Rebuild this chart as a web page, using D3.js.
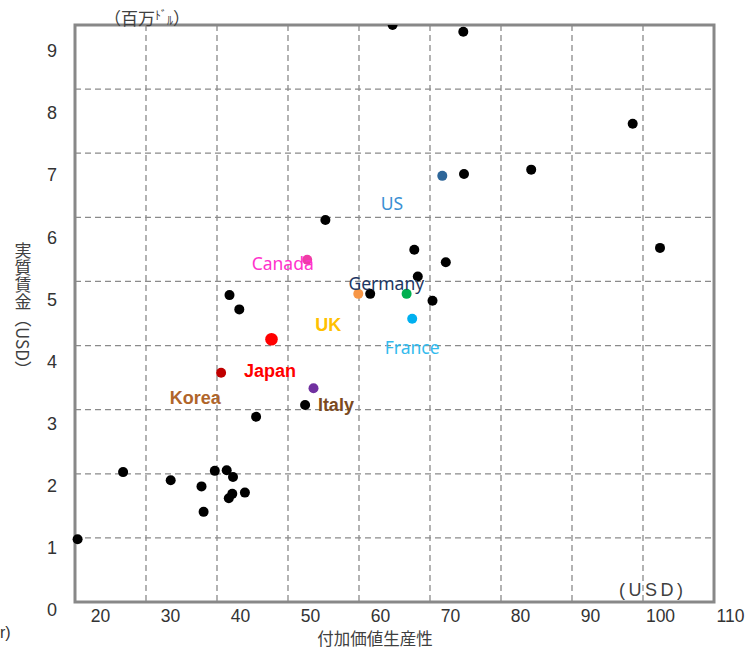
<!DOCTYPE html>
<html><head><meta charset="utf-8">
<script src="https://cdn.jsdelivr.net/npm/d3@7"></script>
<style>
html,body{margin:0;padding:0;background:#fff;}
svg{display:block;}
</style></head>
<body>
<svg id="chart" width="747" height="649"></svg>
<script>
// ---- data ----
const xTickLabels = [20, 30, 40, 50, 60, 70, 80, 90, 100, 110];
const yTickLabels = [0, 1, 2, 3, 4, 5, 6, 7, 8, 9];
const otherX = [16.8, 23.3, 30.1, 34.5, 34.8, 36.4, 38.1, 39.0, 40.7, 38.9, 38.4, 42.3, 49.3, 38.5, 39.9, 52.2, 58.6, 64.9, 65.4, 69.4, 67.5, 72.0, 81.6, 96.1, 100.0, 61.8, 71.9];
const otherY = [1.14, 2.22, 2.09, 1.99, 1.58, 2.24, 2.25, 2.14, 1.89, 1.87, 1.80, 3.11, 3.30, 5.07, 4.84, 6.28, 5.09, 5.80, 5.37, 5.60, 4.98, 7.02, 7.09, 7.83, 5.83, 9.42, 9.31];
const countries = ["US", "Canada", "UK", "Germany", "France", "Japan", "Korea", "Italy"];
const countryX = [68.9, 49.6, 56.9, 63.8, 64.6, 44.5, 37.3, 50.5];
const countryY = [6.99, 5.64, 5.09, 5.09, 4.69, 4.36, 3.82, 3.57];
const labelX = [61.7, 46.1, 52.6, 60.9, 64.6, 44.3, 33.6, 53.7];
const labelY = [6.44, 5.48, 4.49, 5.15, 4.12, 3.75, 3.32, 3.20];

// ---- styles ----
const dotColor = {US:"#2E6699", Canada:"#F03CA6", UK:"#F79646", Germany:"#00B050", France:"#00B0F0", Japan:"#FF0000", Korea:"#C00000", Italy:"#7030A0"};
const textColor = {US:"#3A8FD3", Canada:"#FF33CC", UK:"#FFC000", Germany:"#1F3864", France:"#33BBEE", Japan:"#FF0000", Korea:"#B0652A", Italy:"#7B4A1E"};
const bold = {UK:true, Japan:true, Korea:true, Italy:true};

const svg = d3.select("#chart");
const frame = {x0:75, x1:714, y0:25, y1:602};

// scales
const x = d3.scaleLinear().domain([20, 110]).range([100, 730]);
const y = d3.scaleLinear().domain([0, 9]).range([610, 51]);
const gx = d3.scaleLinear().domain([0, 9]).range([frame.x0, frame.x1]);
const gy = d3.scaleLinear().domain([0, 9]).range([frame.y1, frame.y0]);

// gridlines
const grid = svg.append("g").attr("stroke", "#8a8a8a").attr("stroke-width", 1.3).attr("stroke-dasharray", "6,4");
grid.selectAll("line.v").data(d3.range(1, 9)).join("line")
  .attr("x1", d => gx(d)).attr("x2", d => gx(d)).attr("y1", frame.y0).attr("y2", frame.y1);
grid.selectAll("line.h").data(d3.range(1, 9)).join("line")
  .attr("y1", d => gy(d)).attr("y2", d => gy(d)).attr("x1", frame.x0).attr("x2", frame.x1);

// frame
svg.append("rect").attr("x", frame.x0).attr("y", frame.y0)
  .attr("width", frame.x1 - frame.x0).attr("height", frame.y1 - frame.y0)
  .attr("fill", "none").attr("stroke", "#888").attr("stroke-width", 3);

// clip
svg.append("clipPath").attr("id", "clip").append("rect")
  .attr("x", 0).attr("y", frame.y0).attr("width", 747).attr("height", 649 - frame.y0);

const dots = svg.append("g").attr("clip-path", "url(#clip)");
dots.selectAll("circle.o").data(d3.range(otherX.length)).join("circle")
  .attr("cx", i => x(otherX[i])).attr("cy", i => y(otherY[i])).attr("r", 5).attr("fill", "#000");
dots.selectAll("circle.c").data(d3.range(countries.length)).join("circle")
  .attr("cx", i => x(countryX[i])).attr("cy", i => y(countryY[i]))
  .attr("r", i => countries[i] === "Japan" ? 6.3 : 5)
  .attr("fill", i => dotColor[countries[i]]);

// country labels
svg.append("g").selectAll("text").data(d3.range(countries.length)).join("text")
  .attr("x", i => x(labelX[i])).attr("y", i => y(labelY[i]))
  .attr("text-anchor", "middle")
  .attr("font-family", i => bold[countries[i]] ? "Liberation Sans, Arial, sans-serif" : "Noto Sans, sans-serif")
  .attr("font-weight", i => bold[countries[i]] ? "bold" : "normal")
  .attr("font-size", i => bold[countries[i]] ? 18 : 17.5)
  .attr("fill", i => textColor[countries[i]])
  .text(i => countries[i]);

// axes (tick labels only)
const xAxis = svg.append("g").attr("transform", "translate(0,622)")
  .call(d3.axisBottom(x).tickValues(xTickLabels).tickSize(0).tickPadding(0).tickFormat(d3.format("d")));
xAxis.select(".domain").remove();
xAxis.selectAll("text").attr("font-family", "Liberation Sans, Arial, sans-serif").attr("font-size", 17.5).attr("fill", "#333").attr("dy", 0);

const yAxis = svg.append("g").attr("transform", "translate(57,0)")
  .call(d3.axisLeft(y).tickValues(yTickLabels).tickSize(0).tickPadding(0).tickFormat(d3.format("d")));
yAxis.select(".domain").remove();
yAxis.selectAll("text").attr("font-family", "Liberation Sans, Arial, sans-serif").attr("font-size", 18).attr("fill", "#333");

// titles
svg.append("text").attr("x", 375).attr("y", 645).attr("text-anchor", "middle")
  .attr("font-family", "Noto Sans CJK JP, sans-serif").attr("font-size", 16.5).attr("fill", "#404040")
  .text("付加価値生産性");

svg.append("text").attr("x", 23).attr("y", 242)
  .style("writing-mode", "vertical-rl")
  .attr("font-family", "Noto Sans CJK JP, sans-serif").attr("font-size", 17).attr("fill", "#404040")
  .text("実質賃金（USD）");

const unit = svg.append("text").attr("x", 104).attr("y", 25)
  .attr("font-family", "Noto Sans CJK JP, sans-serif").attr("font-size", 17).attr("fill", "#404040");
unit.append("tspan").text("（百万");
unit.append("tspan").attr("font-size", 12).attr("dy", -5).text("ﾄﾞ");
unit.append("tspan").attr("font-size", 12).attr("dy", 5).text("ﾙ");
unit.append("tspan").text("）");

svg.append("text").attr("x", 619).attr("y", 596)
  .attr("font-family", "Liberation Sans, Arial, sans-serif").attr("font-size", 18).attr("fill", "#404040")
  .attr("letter-spacing", 3.5).text("(USD)");

svg.append("text").attr("x", 0).attr("y", 638)
  .attr("font-family", "Liberation Sans, Arial, sans-serif").attr("font-size", 16).attr("fill", "#333")
  .text("r)");
</script>
</body></html>
